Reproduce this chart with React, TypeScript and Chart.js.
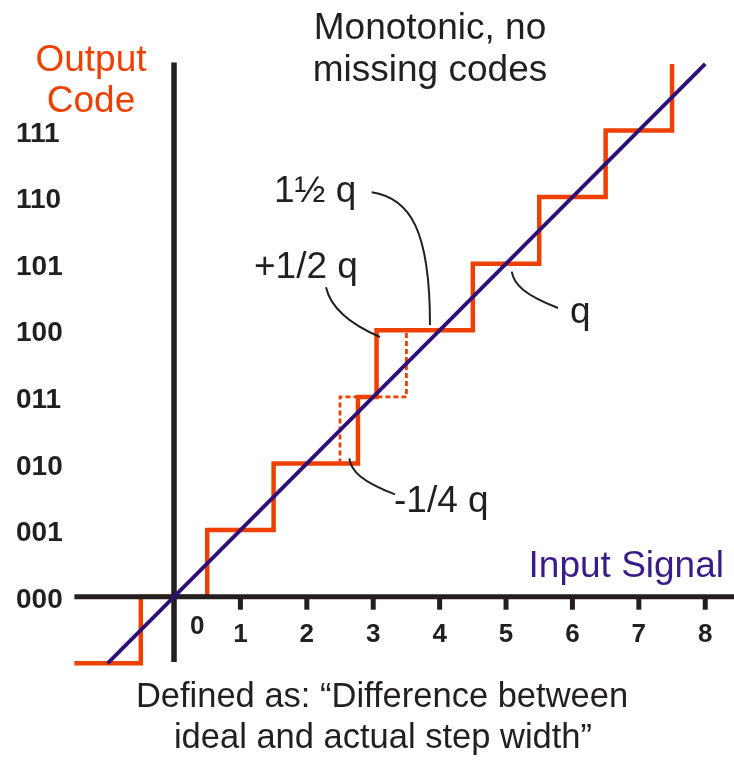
import React, { useEffect, useRef } from 'react';
import { Chart, registerables } from 'chart.js';

Chart.register(...registerables);

const ORANGE = '#EE4000';
const PURPLE = '#2E0F78';
const PURPLE_TEXT = '#3A1C88';
const INK = '#231F20';
const FONT = '"Liberation Sans", Arial, Helvetica, sans-serif';

// actual (measured) transfer staircase
const actualStepX = [-1.5, -0.5, -0.5, 0.5, 0.5, 1.5, 1.5, 2.77, 2.77, 3.05, 3.05, 4.5, 4.5, 5.5, 5.5, 6.5, 6.5, 7.5, 7.5];
const actualStepY = [-1, -1, 0, 0, 1, 1, 2, 2, 3, 3, 4, 4, 5, 5, 6, 6, 7, 7, 8];
// ideal step edges shown dotted
const idealStepX = [2.5, 2.5, 3.5, 3.5];
const idealStepY = [2, 3, 3, 4];
// ideal transfer line
const idealLineX = [-1, 8];
const idealLineY = [-1, 8];

const xTickValues = [1, 2, 3, 4, 5, 6, 7, 8];
const xTickLabels = ['1', '2', '3', '4', '5', '6', '7', '8'];
const codeValues = [0, 1, 2, 3, 4, 5, 6, 7];
const codeLabels = ['000', '001', '010', '011', '100', '101', '110', '111'];

// leader curves (cubic bezier control points in data units)
const leaderCurves = [
  [[2.977, 6.072], [3.554, 5.986], [3.855, 5.506], [3.855, 4.08]],
  [[2.289, 4.646], [2.349, 4.38], [2.575, 4.125], [3.102, 3.899]],
  [[5.086, 4.88], [5.12, 4.68], [5.286, 4.53], [5.783, 4.335]],
  [[2.64, 2.078], [2.666, 1.881], [2.831, 1.731], [3.328, 1.536]],
];

const toPoints = (xs: number[], ys: number[]) => xs.map((x, i) => ({ x, y: ys[i] }));

const decorPlugin = {
  id: 'decor',
  afterDatasetDraw(chart: any, args: any) {
    if (args.index !== 1) return;
    const ctx = chart.ctx;
    const xs = chart.scales.x;
    const ys = chart.scales.y;
    const x0 = xs.getPixelForValue(0);
    const y0 = ys.getPixelForValue(0);
    ctx.save();
    ctx.strokeStyle = INK;
    ctx.lineCap = 'butt';
    // horizontal axis
    ctx.lineWidth = 5;
    ctx.beginPath();
    ctx.moveTo(xs.getPixelForValue(-1.5), y0);
    ctx.lineTo(chart.width, y0);
    ctx.stroke();
    // vertical axis
    ctx.lineWidth = 5.5;
    ctx.beginPath();
    ctx.moveTo(x0, ys.getPixelForValue(-0.98));
    ctx.lineTo(x0, ys.getPixelForValue(8.02));
    ctx.stroke();
    // tick marks
    ctx.lineWidth = 5;
    xTickValues.forEach((v) => {
      const px = xs.getPixelForValue(v);
      ctx.beginPath();
      ctx.moveTo(px, y0);
      ctx.lineTo(px, y0 + 13);
      ctx.stroke();
    });
    ctx.restore();
  },
  afterDraw(chart: any) {
    const ctx = chart.ctx;
    const xs = chart.scales.x;
    const ys = chart.scales.y;
    const y0 = ys.getPixelForValue(0);
    ctx.save();
    // tick labels
    ctx.fillStyle = INK;
    ctx.font = `bold 26px ${FONT}`;
    ctx.textAlign = 'center';
    ctx.textBaseline = 'alphabetic';
    xTickValues.forEach((v, i) => {
      ctx.fillText(xTickLabels[i], xs.getPixelForValue(v), y0 + 45);
    });
    ctx.fillText('0', xs.getPixelForValue(0.35), y0 + 37);
    // code labels
    ctx.font = `bold 28px ${FONT}`;
    ctx.textAlign = 'left';
    codeValues.forEach((v, i) => {
      ctx.fillText(codeLabels[i], 16, ys.getPixelForValue(v) + 11);
    });
    // texts
    ctx.font = `37px ${FONT}`;
    ctx.fillStyle = ORANGE;
    ctx.textAlign = 'center';
    ctx.fillText('Output', 91, 71);
    ctx.fillText('Code', 91, 112);
    ctx.fillStyle = INK;
    ctx.fillText('Monotonic, no', 430, 39);
    ctx.fillText('missing codes', 430, 81);
    ctx.fillStyle = PURPLE_TEXT;
    ctx.textAlign = 'right';
    ctx.fillText('Input Signal', 724, 577);
    ctx.fillStyle = INK;
    ctx.textAlign = 'left';
    ctx.fillText('1\u00BD q', 274, 202);
    ctx.fillText('+1/2 q', 254, 278);
    ctx.fillText('q', 570, 323);
    ctx.fillText('-1/4 q', 394, 512);
    ctx.font = `34.5px ${FONT}`;
    ctx.textAlign = 'center';
    ctx.fillText('Defined as: \u201CDifference between', 382, 707);
    ctx.fillText('ideal and actual step width\u201D', 383, 748);
    // leader curves
    ctx.strokeStyle = INK;
    ctx.lineWidth = 2;
    leaderCurves.forEach((c) => {
      const p = c.map(([x, y]) => [xs.getPixelForValue(x), ys.getPixelForValue(y)]);
      ctx.beginPath();
      ctx.moveTo(p[0][0], p[0][1]);
      ctx.bezierCurveTo(p[1][0], p[1][1], p[2][0], p[2][1], p[3][0], p[3][1]);
      ctx.stroke();
    });
    ctx.restore();
  },
};

export default function App() {
  const canvasRef = useRef<HTMLCanvasElement | null>(null);
  useEffect(() => {
    if (!canvasRef.current) return;
    const chart = new Chart(canvasRef.current, {
      type: 'scatter',
      data: {
        datasets: [
          {
            label: 'Ideal line',
            data: toPoints(idealLineX, idealLineY),
            showLine: true,
            borderColor: PURPLE,
            borderWidth: 3.8,
            pointRadius: 0,
            borderCapStyle: 'butt',
          },
          {
            label: 'Actual',
            data: toPoints(actualStepX, actualStepY),
            showLine: true,
            borderColor: ORANGE,
            borderWidth: 4.5,
            pointRadius: 0,
            borderJoinStyle: 'miter',
            borderCapStyle: 'butt',
          },
          {
            label: 'Ideal step',
            data: toPoints(idealStepX, idealStepY),
            showLine: true,
            borderColor: ORANGE,
            borderWidth: 2.8,
            borderDash: [5, 3],
            pointRadius: 0,
          },
        ],
      },
      options: {
        animation: false,
        responsive: true,
        maintainAspectRatio: false,
        layout: { padding: { left: 8, right: 2.2, top: 30.6, bottom: 67.4 } },
        scales: {
          x: { type: 'linear', display: false, min: -2.5, max: 8.4 },
          y: { type: 'linear', display: false, min: -1.5, max: 8.5 },
        },
        plugins: { legend: { display: false }, tooltip: { enabled: false } },
      },
      plugins: [decorPlugin],
    } as any);
    return () => chart.destroy();
  }, []);
  return (
    <div style={{ position: 'fixed', left: 0, top: 0, width: 734, height: 764, background: '#fff' }}>
      <canvas ref={canvasRef} />
    </div>
  );
}
